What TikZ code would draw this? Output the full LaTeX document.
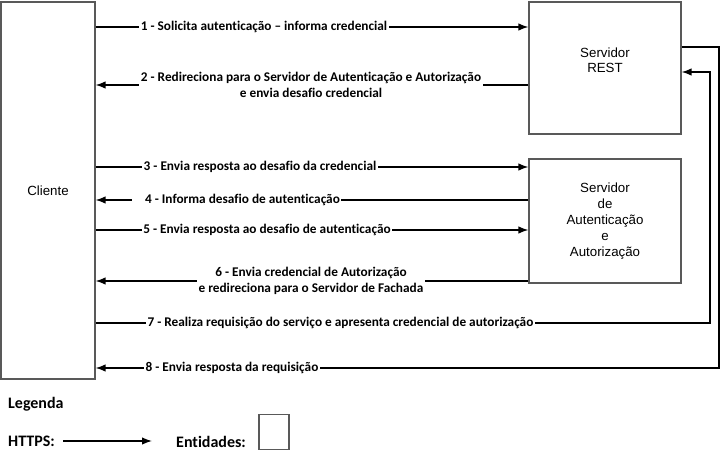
\documentclass[tikz,border=0pt]{standalone}
\usepackage{fontspec}
\setmainfont{Liberation Sans}
\newfontfamily\calibri{Carlito}[Ligatures={NoCommon}]
\usetikzlibrary{positioning, arrows.meta, calc}

\begin{document}
\begin{tikzpicture}[
    x=1bp, y=-1bp,
    entity/.style={draw=black!65, line width=1.2bp, align=center, inner sep=0pt, font=\fontsize{13.3bp}{16bp}\selectfont},
    arr/.style={-{Latex[length=10bp, width=7.5bp]}, line width=1.4bp},
    msg/.style={fill=white, align=center, inner xsep=1.5bp, inner ysep=0.5bp, font=\calibri\bfseries\fontsize{13.3bp}{15.5bp}\selectfont},
    legend/.style={anchor=west, inner sep=0pt, font=\calibri\bfseries\fontsize{16bp}{19bp}\selectfont}
]
\useasboundingbox (0,0) rectangle (728,458);

% Entities
\node[entity, minimum width=94bp, minimum height=377bp] (cliente) at (48,190.5) {Cliente};
\node[entity, minimum width=152bp, minimum height=132bp, label={[align=center, yshift=8bp, font=\fontsize{13.3bp}{15bp}\selectfont]center:Servidor\\REST}] (rest) at (605,68) {};
\node[entity, minimum width=152bp, minimum height=124bp] (auth) at (605,221) {Servidor\\de\\Autenticação\\e\\Autorização};

% Message rows
\coordinate (y1) at (264,27);
\coordinate (y2) at (311,85);
\coordinate (y3) at (260,167);
\coordinate (y4) at (236.5,200);
\coordinate (y5) at (267,230);
\coordinate (y6) at (311,281);
\coordinate (y7) at (340.5,323);
\coordinate (y8) at (232,368);
\coordinate (x7) at (710,0);
\coordinate (x8) at (719,0);

% Connections
\draw[arr] (cliente.east |- y1) -- (rest.west |- y1);
\draw[arr] (rest.west |- y2) -- (cliente.east |- y2);
\draw[arr] (cliente.east |- y3) -- (auth.west |- y3);
\draw[arr] (auth.west |- y4) -- (cliente.east |- y4);
\draw[arr] (cliente.east |- y5) -- (auth.west |- y5);
\draw[arr] (auth.west |- y6) -- (cliente.east |- y6);
\draw[arr] (cliente.east |- y7) -- (x7 |- y7) |- ([yshift=-4bp]rest.east);
\draw[arr] ([yshift=21bp]rest.east) -| (x8 |- y8) -- (cliente.east |- y8);

% Message labels
\node[msg] (m1) at (y1) {1 - Solicita autenticação – informa credencial};
\node[msg] (m2) at (y2) {2 - Redireciona para o Servidor de Autenticação e Autorização\\e envia desafio credencial};
\node[msg] (m3) at (y3) {3 - Envia resposta ao desafio da credencial};
\node[msg] (m4) at (y4) {\hspace*{12bp}4 - Informa desafio de autenticação};
\node[msg] (m5) at (y5) {5 - Envia resposta ao desafio de autenticação};
\node[msg] (m6) at (y6) {6 - Envia credencial de Autorização\\e redireciona para o Servidor de Fachada};
\node[msg] (m7) at (y7) {7 - Realiza requisição do serviço e apresenta credencial de autorização};
\node[msg] (m8) at (y8) {8 - Envia resposta da requisição};

% Legend
\node[legend] (legenda) at (8,404) {Legenda};
\node[legend] (https) at (8,441) {HTTPS:};
\coordinate (https_end) at (152,441);
\draw[arr] ([xshift=8bp]https.east) -- (https_end);
\node[legend] (entidades) at (176,442) {Entidades:};
\node[entity, minimum width=30bp, minimum height=35bp] (entbox) at (274,432) {};

\end{tikzpicture}
\end{document}
